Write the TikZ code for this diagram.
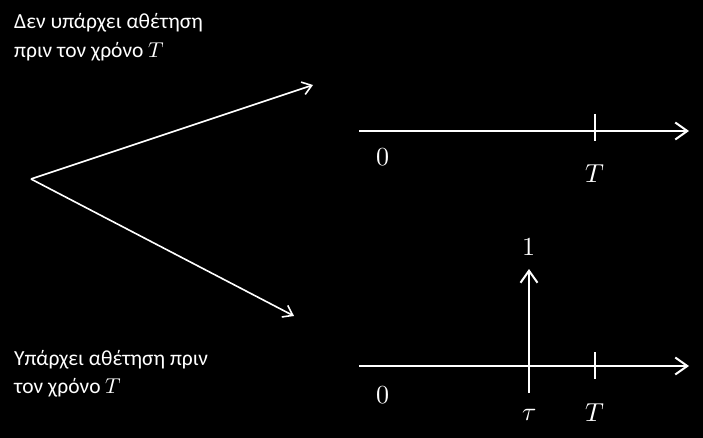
\documentclass[tikz,border=0pt]{standalone}
\usepackage{fontspec}
\usepackage{unicode-math}
\setmainfont{Carlito}
\setmathfont{Latin Modern Math}
\usetikzlibrary{arrows.meta}
\begin{document}
\begin{tikzpicture}[x=1pt,y=-1pt,
  every node/.style={text=white,inner sep=0pt},
  txt/.style={anchor=base west,font=\fontsize{21.5}{26}\selectfont},
  lbl/.style={font=\fontsize{26}{31}\selectfont},
  axis/.style={draw=white,line width=2pt,-{Straight Barb[length=12pt,width=17pt,line width=2pt]}},
  tick/.style={draw=white,line width=2pt},
  branch/.style={draw=white,line width=1.6pt,-{Straight Barb[length=9pt,width=13pt,line width=1.6pt]}}]
\fill[black] (0,0) rectangle (703,438);
\useasboundingbox (0,0) rectangle (703,438);
% left branching arrows
\coordinate (o) at (31,179);
\coordinate (up) at (313,85);
\coordinate (dn) at (294,316);
\draw[branch] (o) -- (up);
\draw[branch] (o) -- (dn);
% texts
\node[txt] (t1a) at (14,29) {Δεν υπάρχει αθέτηση};
\node[txt] (t1b) at (14,58) {πριν τον χρόνο $T$};
\node[txt] (t2a) at (14,365) {Υπάρχει αθέτηση πριν};
\node[txt] (t2b) at (14,393) {τον χρόνο $T$};
% upper axis
\coordinate (a1s) at (359,131);
\coordinate (a1e) at (689,131);
\draw[axis] (a1s) -- (a1e);
\coordinate (k1t) at (595,114);
\coordinate (k1b) at (595,141);
\draw[tick] (k1t) -- (k1b);
\node[lbl] (z1) at (383,157) {$0$};
\node[lbl] (T1) at (595,174) {$T$};
% lower axis
\coordinate (a2s) at (359,366);
\coordinate (a2e) at (689,366);
\draw[axis] (a2s) -- (a2e);
\coordinate (k2t) at (595,352);
\coordinate (k2b) at (595,379);
\draw[tick] (k2t) -- (k2b);
\coordinate (vb) at (529,393);
\coordinate (vt) at (529,269);
\draw[axis] (vb) -- (vt);
\node[lbl] (one) at (529,247) {$1$};
\node[lbl] (z2) at (383,395) {$0$};
\node[lbl] (tau) at (529,415) {$\tau$};
\node[lbl] (T2) at (595,413) {$T$};
\end{tikzpicture}
\end{document}
